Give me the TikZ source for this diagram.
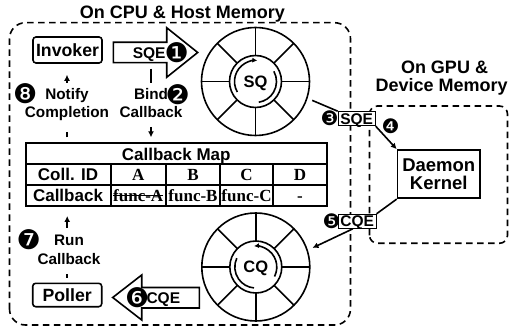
\documentclass[tikz,border=0pt]{standalone}
\usepackage{fontspec}
\setmainfont{Liberation Sans}
\newfontfamily\tmsfont{Liberation Serif}
\newfontfamily\dingfont{DejaVu Sans}
\usetikzlibrary{arrows.meta,calc}
\newcommand*\fsz[1]{\fontsize{#1}{#1}\selectfont}
\begin{document}
\begin{tikzpicture}[x=1pt,y=1pt,
  lw/.style={line width=1.6pt},
  conn/.style={line width=1.6pt},
  arr/.style={-{Latex[length=6pt,width=6pt]}},
  cpubox/.style={line width=1.6pt, dash pattern=on 6.5pt off 4.5pt, rounded corners=16pt},
  gpubox/.style={line width=1.6pt, dash pattern=on 6.5pt off 4.5pt, rounded corners=8pt},
  ttl/.style={inner sep=0pt, text height=12.9pt, text depth=0pt, font=\fsz{18}\bfseries},
  rbox/.style={draw, line width=1.6pt, rounded corners=3pt, inner sep=0pt, minimum width=69pt, text height=12.7pt, text depth=0pt, font=\fsz{17.7}\bfseries},
  qtxt/.style={inner sep=0pt, text height=11.1pt, text depth=0pt, font=\fsz{15.5}\bfseries},
  qbox/.style={draw, fill=white, line width=1pt, inner sep=0pt, minimum height=14pt, text height=11.1pt, text depth=0pt, font=\fsz{15.5}\bfseries},
  ltxt/.style={inner sep=0pt, text height=11pt, text depth=0pt, font=\fsz{15.3}\bfseries},
  ctxt/.style={inner sep=0pt, text height=12.2pt, text depth=0pt, font=\fsz{17}\bfseries},
  stxt/.style={inner sep=0pt, text height=11.3pt, text depth=0pt, font=\tmsfont\fsz{17}\bfseries},
  ringtxt/.style={inner sep=0pt, text height=11.8pt, text depth=0pt, font=\fsz{16.5}\bfseries},
  bnum/.style={inner sep=0pt, font=\dingfont\fsz{27}},
  snum/.style={inner sep=0pt, font=\dingfont\fsz{20}},
  ring/.style={circle, draw, line width=1.6pt, inner sep=0pt}
]
\useasboundingbox (0,0) rectangle (511,332);

% containers
\node[ttl] (cputitle) at (182.5,320) {On CPU \& Host Memory};
\draw[cpubox] (9.5,7) rectangle (350.5,309.3);
\node[ttl] (gput1) at (444.5,265.3) {On GPU \&};
\node[ttl] (gput2) at (441.7,247) {Device Memory};
\draw[gpubox] (369.5,88.7) rectangle (507.5,226);

% invoker / poller
\node[rbox, minimum height=26pt] (invoker) at (67.5,282) {Invoker};
\node[rbox, minimum height=23.4pt] (poller) at (67.2,37) {Poller};

% SQE block arrow
\draw[lw] (113.3,289.7) -- (166.7,289.7) -- (166.7,304.3) -- (197.7,279.5) -- (166.7,254.7) -- (166.7,269.3) -- (113.3,269.3) -- cycle;
\node[qtxt] (sqetxt) at (149.2,279.5) {SQE};
\node[bnum] (n1) at (176.7,279.8) {❶};
\coordinate (sqebot) at (151,269.3);

% CQE block arrow
\draw[lw] (199.3,44.5) -- (141.7,44.5) -- (141.7,57) -- (112.7,34.5) -- (141.7,12) -- (141.7,24) -- (199.3,24) -- cycle;
\node[bnum] (n6) at (137.3,34.3) {❻};
\node[qtxt] (cqetxt) at (163.3,34.3) {CQE};

% SQ ring
\node[ring, minimum size=108pt] (sqo) at (255.5,250.5) {};
\node[ring, minimum size=52pt] (sqi) at (sqo.center) {};
\foreach \a in {0,45,...,315} \draw[lw] (sqo.center) ++(\a:26) -- ++(\a:28);
\node[ringtxt] (sqlbl) at (sqo.center) {SQ};
\draw[lw, -{Latex[length=5pt,width=5pt]}] (sqo.center) ++(210:21) arc[start angle=210, end angle=85, radius=21];
\draw[lw] (sqo.center) ++(29:21) arc[start angle=29, end angle=-81, radius=21];

% CQ ring
\node[ring, minimum size=108pt] (cqo) at (255.8,65) {};
\node[ring, minimum size=52pt] (cqi) at (cqo.center) {};
\foreach \a in {0,45,...,315} \draw[lw] (cqo.center) ++(\a:26) -- ++(\a:28);
\node[ringtxt] (cqlbl) at (cqo.center) {CQ};
\draw[lw, -{Latex[length=5pt,width=5pt]}] (cqo.center) ++(-27:21) arc[start angle=-27, end angle=95, radius=21];
\draw[lw] (cqo.center) ++(155:21) arc[start angle=155, end angle=265, radius=21];

% GPU side
\node[draw, lw, minimum width=82.5pt, minimum height=48.3pt, inner sep=0pt, align=center, font=\fsz{18.5}\bfseries] (daemon) at (438.75,157.85) {\fontsize{18.5}{20}\selectfont Daemon\\Kernel};
\node[qbox, minimum width=37pt] (sqebox) at (356.7,213.3) {SQE};
\node[snum] (n3) at (329.5,214) {❸};
\node[snum] (n4) at (390.7,205.3) {❹};
\node[qbox, minimum width=37.7pt] (cqebox) at (357.2,110.7) {CQE};
\node[snum] (n5) at (331.5,111) {❺};

\draw[conn, shorten <=5pt] (sqo.-18) -- (sqebox.north west);
\draw[conn, arr] (sqebox.south east) -- (daemon.north west);
\draw[conn] (daemon.south west) -- (cqebox.north east);
\draw[conn, arr, shorten >=5pt] (cqebox.-120) -- (cqo.18);

% callback map table
\node[draw, line width=2pt, outer sep=0pt, inner sep=0pt, minimum width=301.5pt, minimum height=62.5pt] (maptable) at (176.25,157.25) {};
\draw[line width=2pt] (maptable.west |- 0,167.5) -- (maptable.east |- 0,167.5);
\draw[line width=2pt] (maptable.west |- 0,147) -- (maptable.east |- 0,147);
\foreach \x in {110.5,166,220,273} \draw[line width=2pt] (\x,167.5) -- (\x,126);
\node[ctxt] (maptitle) at (176.25,178) {Callback Map};
\node[ctxt] (collid) at (68,157.25) {Coll. ID};
\node[stxt] (colA) at (138.25,157.25) {A};
\node[stxt] (colB) at (193,157.25) {B};
\node[stxt] (colC) at (246.5,157.25) {C};
\node[stxt] (colD) at (300,157.25) {D};
\node[ctxt] (cbrow) at (68,136.5) {Callback};
\node[stxt] (funcA) at (138.25,136.5) {func-A};
\draw[line width=1.1pt] (funcA.west) -- (funcA.east);
\node[stxt] (funcB) at (193,136.5) {func-B};
\node[stxt] (funcC) at (246.5,136.5) {func-C};
\node[stxt] (funcD) at (300,136.5) {-};

% labels and their connectors
\node[ltxt] (notify1) at (67,238) {Notify};
\node[ltxt] (notify2) at (67,220) {Completion};
\node[bnum] (n8) at (25.3,238) {❽};
\draw[conn, arr, shorten <=5.4pt, shorten >=11pt] (notify1.north) -- (notify1.north |- invoker.south);
\draw[conn, shorten <=6.2pt, shorten >=14.2pt] (notify2.south |- maptable.north) -- (notify2.south);

\node[ltxt] (bind1) at (151,238) {Bind};
\node[ltxt] (bind2) at (151,220) {Callback};
\node[bnum] (n2) at (177.7,237.7) {❷};
\draw[conn, shorten <=6pt, shorten >=5.2pt] (sqebot) -- (bind1.north);
\draw[conn, arr, shorten <=9.2pt, shorten >=6.2pt] (bind2.south) -- (bind2.south |- maptable.north);

\node[ltxt] (run1) at (69,92) {Run};
\node[ltxt] (run2) at (69,73) {Callback};
\node[bnum] (n7) at (28.7,92) {❼};
\draw[conn, arr, shorten <=6.5pt, shorten >=10pt] (poller.north |- run1.north) -- (poller.north |- maptable.south);
\draw[conn, shorten <=4.7pt, shorten >=9.5pt] (poller.north) -- (poller.north |- run2.south);
\end{tikzpicture}
\end{document}
